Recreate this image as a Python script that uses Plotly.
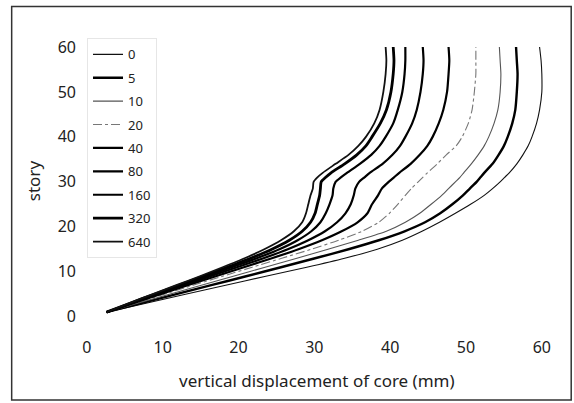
import plotly.graph_objects as go

# story levels (y) shared by all curves
story = [1, 3, 5, 7, 9, 11, 13, 15, 17, 19, 21, 23, 25, 27, 28.5, 30, 31, 32, 34, 36, 38, 40, 43, 46, 50, 54, 57, 60]

# vertical displacement of core (mm) for each case
d0   = [2.6, 7.8, 13.0, 18.3, 23.6, 29.0, 34.0, 38.3, 41.6, 44.2, 46.5, 48.6, 50.6, 52.4, 53.5, 54.5, 55.1, 55.7, 56.7, 57.5, 58.2, 58.7, 59.3, 59.7, 60.0, 60.0, 59.9, 59.7]
d5   = [2.6, 7.2, 11.8, 16.4, 21.0, 25.6, 30.1, 34.5, 38.5, 41.9, 44.6, 46.6, 48.2, 49.6, 50.5, 51.4, 51.9, 52.4, 53.5, 54.3, 55.0, 55.5, 56.1, 56.5, 56.7, 56.8, 56.7, 56.6]
d10  = [2.6, 6.7, 10.9, 15.1, 19.3, 23.5, 27.7, 31.8, 35.8, 39.5, 42.0, 43.9, 45.4, 46.8, 47.7, 48.6, 49.2, 49.7, 50.7, 51.6, 52.4, 53.0, 53.7, 54.2, 54.5, 54.6, 54.5, 54.4]
d20  = [2.6, 6.4, 10.2, 14.0, 17.9, 21.8, 25.7, 29.6, 33.2, 36.3, 38.5, 39.9, 41.0, 42.0, 42.8, 43.7, 44.3, 44.9, 46.2, 47.4, 48.7, 49.5, 50.3, 50.8, 51.1, 51.3, 51.3, 51.3]
d40  = [2.6, 6.1, 9.7, 13.3, 17.0, 20.7, 24.4, 27.9, 31.0, 33.6, 35.7, 37.0, 37.6, 38.4, 38.9, 39.8, 40.5, 41.2, 42.7, 43.9, 44.9, 45.6, 46.4, 47.0, 47.5, 47.7, 47.8, 47.7]
d80  = [2.6, 5.9, 9.3, 12.8, 16.3, 19.8, 23.3, 26.5, 29.2, 31.4, 33.0, 34.1, 34.8, 35.2, 35.4, 35.9, 36.6, 37.3, 39.0, 40.3, 41.3, 42.0, 42.9, 43.5, 44.0, 44.3, 44.4, 44.3]
d160 = [2.6, 5.8, 9.1, 12.4, 15.8, 19.1, 22.4, 25.4, 27.8, 29.6, 30.8, 31.5, 32.0, 32.4, 32.5, 32.8, 33.5, 34.3, 36.0, 37.5, 38.6, 39.4, 40.4, 41.0, 41.6, 41.9, 42.0, 42.0]
d320 = [2.6, 5.7, 8.9, 12.1, 15.3, 18.5, 21.6, 24.4, 26.7, 28.4, 29.5, 30.1, 30.4, 30.7, 30.8, 30.9, 31.5, 32.2, 34.0, 35.6, 36.8, 37.6, 38.7, 39.5, 40.1, 40.4, 40.5, 40.4]
d640 = [2.6, 5.6, 8.7, 11.8, 14.9, 17.9, 20.8, 23.4, 25.6, 27.3, 28.4, 28.9, 29.2, 29.5, 29.8, 29.9, 30.4, 31.1, 32.8, 34.5, 35.8, 36.8, 37.9, 38.6, 39.1, 39.4, 39.5, 39.4]

names = ["0", "5", "10", "20", "40", "80", "160", "320", "640"]
series = [d0, d5, d10, d20, d40, d80, d160, d320, d640]
styles = [
    dict(color="#111111", width=1.1),
    dict(color="#000000", width=2.4),
    dict(color="#555555", width=1.1),
    dict(color="#777777", width=1.1, dash="dashdot"),
    dict(color="#000000", width=2.2),
    dict(color="#000000", width=2.2),
    dict(color="#000000", width=2.2),
    dict(color="#000000", width=2.8),
    dict(color="#111111", width=1.8),
]

x_ticks = [0, 10, 20, 30, 40, 50, 60]
y_ticks = [0, 10, 20, 30, 40, 50, 60]

FONT = "Noto Sans"

fig = go.Figure()
for nm, xs, st in zip(names, series, styles):
    fig.add_trace(go.Scatter(
        x=xs, y=story, mode="lines", name=nm, legendgroup=nm,
        line=dict(shape="spline", smoothing=0.6, **st),
    ))

W, H = 574, 403
ml, mr, mt, mb = 77, 17.2, 37.6, 67
pw, ph = W - ml - mr, H - mt - mb

def px_to_paper_x(px):
    return (px - ml) / pw

def px_to_paper_y(py):
    return (H - mb - py) / ph

fig.update_layout(
    width=W, height=H, autosize=False,
    margin=dict(l=ml, r=mr, t=mt, b=mb, pad=0),
    paper_bgcolor="white", plot_bgcolor="white",
    font=dict(family=FONT, color="#222222", size=16),
    xaxis=dict(range=[-1.3, 62], tickvals=x_ticks, showgrid=False, zeroline=False,
               showline=False, ticks="", tickfont=dict(size=16, color="#222222")),
    yaxis=dict(range=[-4.3, 62], tickvals=y_ticks, showgrid=False, zeroline=False,
               showline=False, ticks="", tickfont=dict(size=16, color="#222222")),
    legend=dict(x=px_to_paper_x(87), y=px_to_paper_y(38), xanchor="left", yanchor="top",
                font=dict(size=13, family=FONT, color="#222222"),
                bgcolor="white", bordercolor="#e6e6e6", borderwidth=1,
                tracegroupgap=3.5, traceorder="grouped"),
    showlegend=True,
    annotations=[
        dict(text="story", textangle=-90, x=px_to_paper_x(33), y=px_to_paper_y(180),
             xanchor="center", yanchor="middle",
             xref="paper", yref="paper", showarrow=False, font=dict(size=17, family=FONT, color="#222222")),
        dict(text="vertical displacement of core (mm)", x=px_to_paper_x(317), y=px_to_paper_y(381),
             xanchor="center", yanchor="middle",
             xref="paper", yref="paper", showarrow=False, font=dict(size=17, family=FONT, color="#222222")),
    ],
    shapes=[
        dict(type="rect", xref="paper", yref="paper",
             x0=px_to_paper_x(11.7), x1=px_to_paper_x(571),
             y0=px_to_paper_y(400), y1=px_to_paper_y(6),
             line=dict(color="#333333", width=1.5), layer="below"),
    ],
)

fig.write_html("out.html", config={"displayModeBar": False},
               post_script="document.body.style.margin='0';document.body.style.overflow='hidden';")
